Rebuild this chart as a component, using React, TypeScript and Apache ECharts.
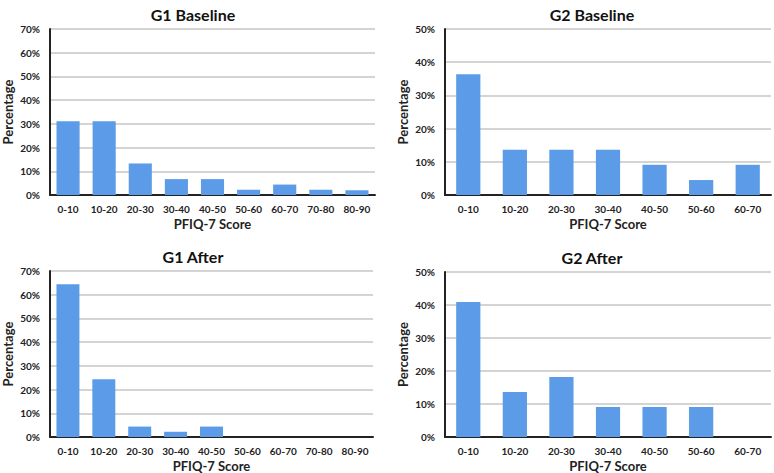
import React, { useEffect, useRef } from "react";
import * as echarts from "echarts";

const catsG1 = ["0-10", "10-20", "20-30", "30-40", "40-50", "50-60", "60-70", "70-80", "80-90"];
const catsG2 = ["0-10", "10-20", "20-30", "30-40", "40-50", "50-60", "60-70"];
const g1Baseline = [31.1, 31.1, 13.3, 6.7, 6.7, 2.2, 4.4, 2.2, 2.0];
const g1After = [64.4, 24.4, 4.4, 2.2, 4.4, 0, 0, 0, 0];
const g2Baseline = [36.4, 13.6, 13.6, 13.6, 9.1, 4.5, 9.1];
const g2After = [40.9, 13.6, 18.2, 9.1, 9.1, 9.1, 0];
const titles = ["G1 Baseline", "G2 Baseline", "G1 After", "G2 After"];
const yMax = [70, 50, 70, 50];
const xName = "PFIQ-7 Score";
const yName = "Percentage";

const FONT = "Lato, 'Liberation Sans', sans-serif";

export default function App() {
  const ref = useRef<HTMLDivElement>(null);
  useEffect(() => {
    const chart = echarts.init(ref.current!, null, { renderer: "svg" });
    const grids = [
      { left: 48, top: 29, width: 327, height: 166 },
      { left: 445, top: 29, width: 326, height: 166 },
      { left: 46, top: 271, width: 327, height: 166 },
      { left: 445, top: 272, width: 326, height: 167 },
    ];
    const titleCenters = [
      { x: 188, y: 1 },
      { x: 587, y: 1 },
      { x: 188, y: 243 },
      { x: 587, y: 244 },
    ];
    const catsList = [catsG1, catsG2, catsG1, catsG2];
    const dataList = [g1Baseline, g2Baseline, g1After, g2After];
    const gaps = ["36%", "48%", "36%", "48%"];

    const option: any = {
      animation: false,
      backgroundColor: "#ffffff",
      title: titles.map((t, i) => ({
        text: t,
        left: titleCenters[i].x,
        top: titleCenters[i].y,
        textAlign: "center",
        textStyle: { fontFamily: FONT, fontWeight: "bold", fontSize: 16, color: "#111" },
      })),
      grid: grids.map((g) => ({ ...g, containLabel: false })),
      xAxis: catsList.map((c, i) => ({
        type: "category",
        gridIndex: i,
        data: c,
        name: xName,
        nameLocation: "middle",
        nameGap: 22,
        nameTextStyle: { fontFamily: FONT, fontWeight: "bold", fontSize: 13, color: "#222" },
        axisLine: { show: true, lineStyle: { color: "#222", width: 2 } },
        axisTick: { show: false },
        axisLabel: {
          fontFamily: FONT,
          fontWeight: "bold",
          fontSize: 10,
          color: "#222",
          margin: 9,
          interval: 0,
        },
      })),
      yAxis: yMax.map((m, i) => ({
        type: "value",
        gridIndex: i,
        min: 0,
        max: m,
        interval: 10,
        name: yName,
        nameLocation: "middle",
        nameGap: 36,
        nameTextStyle: { fontFamily: FONT, fontWeight: "bold", fontSize: 13, color: "#222" },
        axisLine: { show: true, lineStyle: { color: "#222", width: 2 } },
        axisTick: { show: false },
        splitLine: { show: true, lineStyle: { color: "#c6c6c6", width: 1.5 } },
        axisLabel: {
          fontFamily: FONT,
          fontWeight: "bold",
          fontSize: 10,
          color: "#222",
          margin: 10,
          formatter: (v: number) => `${v}%`,
        },
      })),
      series: dataList.map((d, i) => ({
        type: "bar",
        xAxisIndex: i,
        yAxisIndex: i,
        data: d,
        barCategoryGap: gaps[i],
        itemStyle: { color: "#5b9be8", borderWidth: 0 },
      })),
    };
    chart.setOption(option);
    return () => chart.dispose();
  }, []);
  return (
    <div
      ref={ref}
      style={{ position: "absolute", left: 0, top: 0, width: 774, height: 473 }}
    />
  );
}
